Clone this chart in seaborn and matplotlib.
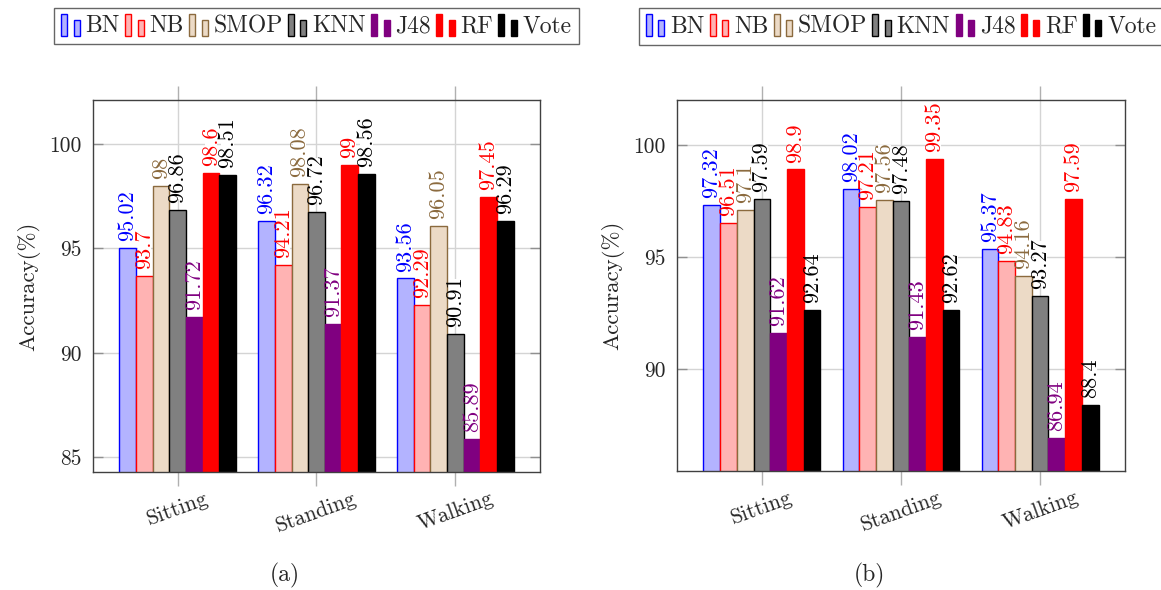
import matplotlib
matplotlib.use("Agg")
import matplotlib.pyplot as plt
import matplotlib.patches as mpatches
from matplotlib.legend_handler import HandlerBase
import seaborn as sns
import pandas as pd

# ---- data ---------------------------------------------------------------
activities = ["Sitting", "Standing", "Walking"]
classifiers = ["BN", "NB", "SMOP", "KNN", "J48", "RF", "Vote"]

acc_a = {
    "BN":   [95.02, 96.32, 93.56],
    "NB":   [93.7, 94.21, 92.29],
    "SMOP": [98, 98.08, 96.05],
    "KNN":  [96.86, 96.72, 90.91],
    "J48":  [91.72, 91.37, 85.89],
    "RF":   [98.6, 99, 97.45],
    "Vote": [98.51, 98.56, 96.29],
}
acc_b = {
    "BN":   [97.32, 98.02, 95.37],
    "NB":   [96.51, 97.21, 94.83],
    "SMOP": [97.1, 97.56, 94.16],
    "KNN":  [97.59, 97.48, 93.27],
    "J48":  [91.62, 91.43, 86.94],
    "RF":   [98.9, 99.35, 97.59],
    "Vote": [92.64, 92.62, 88.4],
}
yticks_a = [85, 90, 95, 100]
yticks_b = [90, 95, 100]

# ---- styles -------------------------------------------------------------
brown = "#8B6A3E"
fills = {"BN": "#B3B3FF", "NB": "#FFB3B3", "SMOP": "#ECDAC6", "KNN": "#808080",
         "J48": "#800080", "RF": "#FF0000", "Vote": "#000000"}
edges = {"BN": "#0000FF", "NB": "#FF0000", "SMOP": brown, "KNN": "#000000",
         "J48": "#800080", "RF": "#FF0000", "Vote": "#000000"}
texts = {"BN": "#0000FF", "NB": "#FF0000", "SMOP": brown, "KNN": "#000000",
         "J48": "#800080", "RF": "#FF0000", "Vote": "#000000"}

sns.set_theme(style="white")
plt.rcParams["font.family"] = ["cmr10", "DejaVu Serif"]
plt.rcParams["axes.formatter.use_mathtext"] = True
plt.rcParams["mathtext.fontset"] = "cm"

FS_TICK = 15.5  # tick labels
FS_YLAB = 16.5  # axis label
FS_VAL = 16     # value labels above bars
FS_LEG = 17     # legend and sub-captions


class TwoBarHandler(HandlerBase):
    """Legend key made of two small bars, the second one shorter."""

    def create_artists(self, legend, orig_handle, xdescent, ydescent,
                       width, height, fontsize, trans):
        fc = orig_handle.get_facecolor()
        ec = orig_handle.get_edgecolor()
        bw = width * 0.30
        base = -ydescent - 0.2 * height
        r1 = mpatches.Rectangle((-xdescent, base), bw, height * 1.3,
                                facecolor=fc, edgecolor=ec, lw=1.0, transform=trans)
        r2 = mpatches.Rectangle((-xdescent + width * 0.62, base), bw, height * 0.95,
                                facecolor=fc, edgecolor=ec, lw=1.0, transform=trans)
        return [r1, r2]


def draw_panel(ax, acc, ylim, yticks):
    rows = []
    for clf in classifiers:
        for act, v in zip(activities, acc[clf]):
            rows.append({"Activity": act, "Classifier": clf, "Accuracy": v})
    df = pd.DataFrame(rows)

    sns.barplot(data=df, x="Activity", y="Accuracy", hue="Classifier",
                order=activities, hue_order=classifiers,
                palette=[fills[c] for c in classifiers], width=0.84,
                saturation=1, errorbar=None, legend=False, ax=ax, zorder=2)

    for clf, cont in zip(classifiers, ax.containers):
        for bar, val in zip(cont.patches, cont.datavalues):
            bar.set_edgecolor(edges[clf])
            bar.set_linewidth(1.0)
            ax.annotate(f"{val:g}", (bar.get_x() + bar.get_width() / 2, val),
                        xytext=(0, 5), textcoords="offset points",
                        rotation=90, ha="center", va="bottom", fontsize=FS_VAL,
                        color=texts[clf], zorder=5,
                        bbox=dict(boxstyle="square,pad=-0.15", fc="white", ec="none"))

    ax.set_xlim(-0.61, 2.61)
    ax.set_ylim(*ylim)
    ax.set_yticks(yticks)
    ax.set_yticklabels([str(t) for t in yticks], fontsize=FS_TICK)
    ax.set_xticks(range(len(activities)))
    ax.set_xticklabels(activities, fontsize=FS_TICK, rotation=20, ha="center")
    ax.set_xlabel("")
    ax.set_ylabel("Accuracy(%)", fontsize=FS_YLAB, labelpad=7)

    ax.grid(True, color="#d4d4d4", lw=1.0, zorder=0)
    ax.set_axisbelow(True)
    ax.tick_params(axis="x", direction="out", length=10, width=1, color="#b0b0b0",
                   top=True, bottom=True, pad=2)
    ax.tick_params(axis="y", direction="in", length=7, width=1, color="#909090",
                   left=True, right=True, pad=8)
    for s in ax.spines.values():
        s.set_visible(True)
        s.set_color("#404040")
        s.set_linewidth(1.0)

    handles = [mpatches.Rectangle((0, 0), 1, 1, facecolor=fills[c], edgecolor=edges[c])
               for c in classifiers]
    leg = ax.legend(handles, classifiers, loc="upper center",
                    bbox_to_anchor=(0.5, 1.247), ncol=7, fontsize=FS_LEG,
                    handler_map={mpatches.Rectangle: TwoBarHandler()},
                    frameon=True, fancybox=False, edgecolor="#404040",
                    handlelength=0.85, handletextpad=0.18, columnspacing=0.22,
                    borderpad=0.3, borderaxespad=0)
    leg.get_frame().set_linewidth(1.0)


fig = plt.figure(figsize=(11.61, 5.90), dpi=100)
ax_a = fig.add_axes([0.0801, 0.2, 0.385, 0.6305])
ax_b = fig.add_axes([0.5831, 0.2017, 0.3859, 0.6288])

draw_panel(ax_a, acc_a, (84.3, 102.1), yticks_a)
draw_panel(ax_b, acc_b, (85.45, 102.0), yticks_b)

fig.text(0.2455, 0.024, "(a)", ha="center", va="center", fontsize=FS_LEG)
fig.text(0.7485, 0.024, "(b)", ha="center", va="center", fontsize=FS_LEG)

fig.savefig("out.png", dpi=100)
